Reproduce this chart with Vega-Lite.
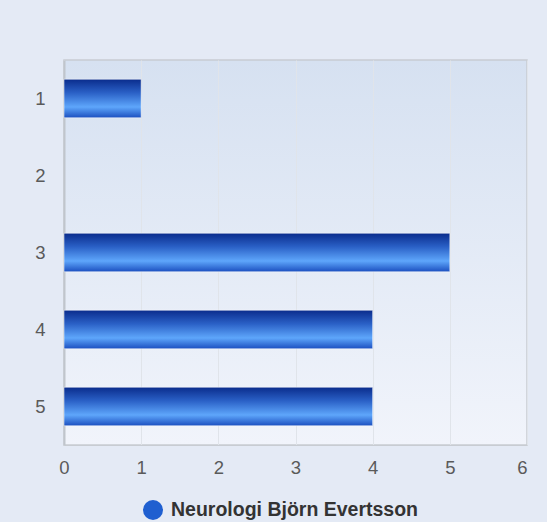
{
  "$schema": "https://vega.github.io/schema/vega-lite/v6.json",
  "autosize": "none",
  "width": 463,
  "height": 385,
  "padding": {"left": 64, "top": 60, "right": 20, "bottom": 77},
  "background": "#e4eaf5",
  "config": {
    "font": "Liberation Sans",
    "view": {
      "stroke": "#c8ccd2",
      "strokeWidth": 1.5,
      "fill": {"gradient": "linear", "x1": 0, "y1": 0, "x2": 0, "y2": 1,
        "stops": [{"offset": 0, "color": "#d6e1f1"}, {"offset": 1, "color": "#f1f4fb"}]}
    },
    "axis": {"labelFont": "Liberation Sans", "labelFontSize": 18.5, "labelColor": "#5a5a5a", "ticks": false, "title": null}
  },
  "data": {"values": [
    {"category": "1", "value": 1},
    {"category": "3", "value": 5},
    {"category": "4", "value": 4},
    {"category": "5", "value": 4}
  ]},
  "mark": {"type": "bar", "stroke": "#ffffff", "strokeOpacity": 0.5, "strokeWidth": 1,
    "fill": {"gradient": "linear", "x1": 0, "y1": 0, "x2": 0, "y2": 1,
      "stops": [
        {"offset": 0, "color": "#0a2c8c"},
        {"offset": 0.35, "color": "#2a60c6"},
        {"offset": 0.72, "color": "#5ea6fb"},
        {"offset": 1, "color": "#1b4fc0"}]}},
  "encoding": {
    "y": {"field": "category", "type": "ordinal",
      "scale": {"domain": ["1", "2", "3", "4", "5"], "paddingInner": 0.5, "paddingOuter": 0.25},
      "axis": {"labelPadding": 19, "labelDy": 2, "domain": true, "domainColor": "#c0c5cc", "domainWidth": 2, "grid": false}},
    "x": {"field": "value", "type": "quantitative",
      "scale": {"domain": [0, 6], "nice": false},
      "axis": {"values": [0, 1, 2, 3, 4, 5, 6], "labelPadding": 13, "grid": true, "gridColor": "#e0e4ea", "domain": true, "domainColor": "#c8ccd2", "labelFlush": false,
        "labelAlign": {"condition": {"test": "datum.value == 6", "value": "right"}, "value": "center"}}},
    "color": {"datum": "Neurologi Björn Evertsson",
      "scale": {"range": ["#1f5fd0"]},
      "legend": {
        "orient": "none", "legendX": 79, "legendY": 440,
        "title": null, "padding": 0,
        "symbolType": "circle", "symbolSize": 400, "symbolStrokeWidth": 0,
        "labelFont": "Liberation Sans", "labelFontSize": 19.5, "labelFontWeight": "bold", "labelColor": "#333333",
        "labelOffset": 8, "labelLimit": 400
      }
    }
  }
}
